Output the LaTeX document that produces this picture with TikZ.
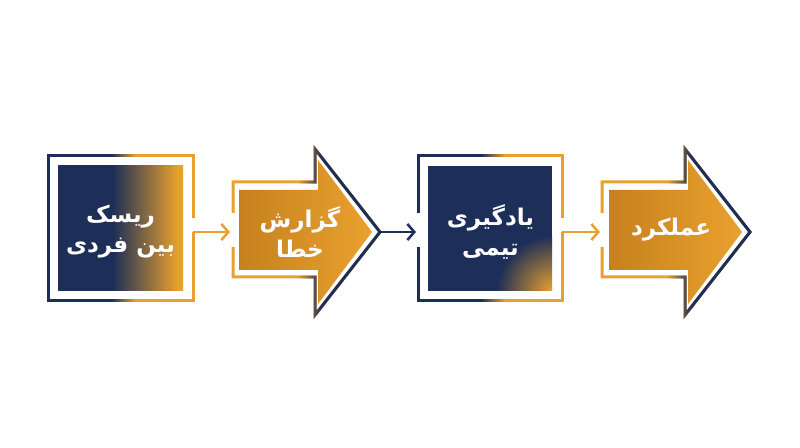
\documentclass[tikz,border=0pt]{standalone}
\usepackage{fontspec}
\usetikzlibrary{arrows.meta,fadings}
\newfontfamily\farsi[Script=Arabic]{DejaVu Sans}
\TeXXeTstate=1
\definecolor{navy}{HTML}{1D2F58}
\definecolor{amber}{HTML}{E9A12E}
\definecolor{amberdark}{HTML}{C6811E}
\pgfdeclarehorizontalshading{riskshade}{100bp}{color(0bp)=(navy); color(47bp)=(navy); color(73bp)=(amber); color(100bp)=(amber)}
\pgfdeclarehorizontalshading{rampshade}{100bp}{color(0bp)=(black); color(47bp)=(black); color(55bp)=(white); color(100bp)=(white)}
\pgfdeclarefading{rampfade}{\pgfuseshading{rampshade}}

\begin{document}
\begin{tikzpicture}[x=1pt,y=1pt,>={Straight Barb[length=7pt,width=16pt]},
    frameline/.style={line width=3pt},
    boxframe/.style={frameline,draw=navy,postaction={draw=amber,path fading=rampfade}},
    arrowframe/.style={frameline,draw=amber,postaction={draw=navy,path fading=rampfade}},
    boxtext/.style={text=white,font=\farsi\bfseries\fontsize{23}{30}\selectfont,align=center},
    link/.style={->,line width=2.5pt}]
    \useasboundingbox (0,0) rectangle (800,447);
    \fill[white] (0,0) rectangle (800,447);

    % box 1
    \draw[boxframe] (193,229) -- (193,291) -- (48,291) -- (48,146) -- (193,146) -- (193,215);
    \shade[shading=riskshade] (58,156) rectangle (183,281);
    \node[boxtext](risk) at (120.5,215) {\beginR ریسک\endR\\\beginR بین فردی\endR};

    % arrow 2
    \draw[arrowframe] (233,234) -- (233,265) -- (315,265) -- (315,298) -- (380,215) -- (315,132) -- (315,170) -- (233,170) -- (233,200);
    \shade[left color=amberdark,right color=amber] (239,257) -- (318,257) -- (318,287) -- (372,215) -- (318,143) -- (318,177) -- (239,177) -- cycle;
    \node[boxtext](report) at (300,215) {\beginR گزارش\endR\\\beginR خطا\endR};

    % box 3
    \draw[boxframe] (562,229) -- (562,291) -- (418,291) -- (418,234) (418,200) -- (418,146) -- (562,146) -- (562,215);
    \fill[navy] (428,156) rectangle (552,281);
    \begin{scope}
      \clip (428,156) rectangle (552,281);
      \shade[inner color=amber,outer color=navy] (552,156) circle (55);
    \end{scope}
    \node[boxtext](learn) at (490.5,215) {\beginR یادگیری\endR\\\beginR تیمی\endR};

    % arrow 4
    \draw[arrowframe] (602,234) -- (602,265) -- (685,265) -- (685,298) -- (750,215) -- (685,132) -- (685,170) -- (602,170) -- (602,200);
    \shade[left color=amberdark,right color=amber] (609,257) -- (688,257) -- (688,287) -- (742,215) -- (688,143) -- (688,177) -- (609,177) -- cycle;
    \node[boxtext](perf) at (671,217) {\beginR عملکرد\endR};

    % connectors
    \coordinate (riskOut) at (193,215);
    \coordinate (reportIn) at (230,215);
    \coordinate (reportTip) at (380,215);
    \coordinate (learnIn) at (416,215);
    \coordinate (learnOut) at (562,215);
    \coordinate (perfIn) at (600,215);
    \draw[link,amber] (riskOut) -- (reportIn);
    \draw[link,navy] (reportTip) -- (learnIn);
    \draw[link,amber] (learnOut) -- (perfIn);
\end{tikzpicture}
\end{document}
